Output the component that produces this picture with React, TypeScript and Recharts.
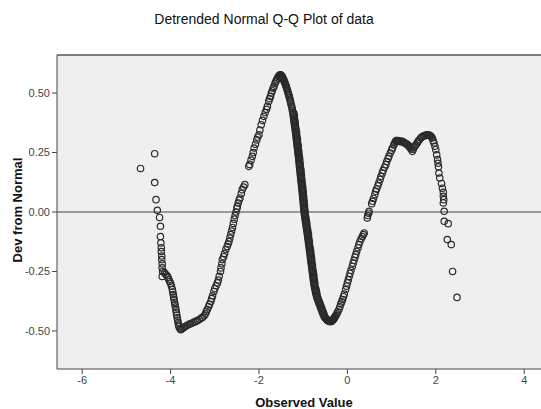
import React from "react";
import { ScatterChart, Scatter, XAxis, YAxis, CartesianGrid, ReferenceLine } from "recharts";

const TITLE = "Detrended Normal Q-Q Plot of data";
const X_LABEL = "Observed Value";
const Y_LABEL = "Dev from Normal";

const X_TICKS = [-6, -4, -2, 0, 2, 4];
const Y_TICKS = [-0.5, -0.25, 0, 0.25, 0.5];
const X_DOMAIN: [number, number] = [-6.57, 4.38];
const Y_DOMAIN: [number, number] = [-0.66, 0.66];

// [observed value, deviation from normal]
const leftTail: [number, number][] = [
  [-4.68, 0.183], [-4.36, 0.245], [-4.36, 0.124], [-4.33, 0.052], [-4.3, 0.007],
  [-4.25, -0.023], [-4.23, -0.06], [-4.23, -0.103], [-4.22, -0.13], [-4.21, -0.15],
  [-4.21, -0.166], [-4.2, -0.185], [-4.2, -0.2], [-4.19, -0.218], [-4.19, -0.235],
  [-4.18, -0.25], [-4.19, -0.271],
];

const firstTrough: [number, number][] = [
  [-4.14, -0.255], [-4.11, -0.262], [-4.08, -0.268], [-4.06, -0.275], [-4.04, -0.284],
  [-4.02, -0.292], [-4.0, -0.3], [-3.98, -0.312], [-3.96, -0.326], [-3.95, -0.336],
  [-3.94, -0.347], [-3.93, -0.358], [-3.92, -0.368], [-3.91, -0.38], [-3.9, -0.39],
  [-3.89, -0.4], [-3.88, -0.41], [-3.87, -0.422], [-3.86, -0.433], [-3.85, -0.445],
  [-3.84, -0.455], [-3.83, -0.465], [-3.82, -0.475], [-3.81, -0.482], [-3.79, -0.49],
  [-3.77, -0.495], [-3.75, -0.492], [-3.72, -0.488], [-3.69, -0.484], [-3.66, -0.48],
  [-3.62, -0.476], [-3.58, -0.472], [-3.55, -0.47], [-3.51, -0.467], [-3.47, -0.463],
  [-3.43, -0.46], [-3.39, -0.456], [-3.35, -0.452], [-3.31, -0.447], [-3.28, -0.443],
];

const firstRise: [number, number][] = [
  [-3.24, -0.436], [-3.21, -0.428], [-3.19, -0.418], [-3.17, -0.41], [-3.14, -0.398],
  [-3.12, -0.388], [-3.09, -0.376], [-3.07, -0.364], [-3.05, -0.352], [-3.02, -0.334],
  [-3.0, -0.322], [-2.97, -0.31], [-2.94, -0.298], [-2.92, -0.286], [-2.9, -0.27],
  [-2.87, -0.25], [-2.86, -0.235], [-2.84, -0.218], [-2.83, -0.2], [-2.8, -0.188],
  [-2.78, -0.175], [-2.75, -0.158], [-2.72, -0.145], [-2.7, -0.135], [-2.68, -0.124],
  [-2.66, -0.11], [-2.64, -0.095], [-2.62, -0.08], [-2.6, -0.065], [-2.58, -0.048],
  [-2.56, -0.03], [-2.54, -0.015], [-2.52, 0.0], [-2.5, 0.015], [-2.49, 0.024],
  [-2.47, 0.038], [-2.45, 0.05], [-2.43, 0.059], [-2.4, 0.078], [-2.38, 0.094],
  [-2.35, 0.105], [-2.32, 0.115],
  [-2.23, 0.192], [-2.21, 0.2], [-2.18, 0.218], [-2.15, 0.234], [-2.13, 0.25],
  [-2.11, 0.269], [-2.08, 0.285], [-2.05, 0.303], [-2.03, 0.315], [-2.0, 0.325],
  [-1.98, 0.345], [-1.95, 0.367], [-1.92, 0.385], [-1.89, 0.402], [-1.86, 0.418],
  [-1.83, 0.432], [-1.81, 0.444], [-1.78, 0.465], [-1.76, 0.476], [-1.74, 0.486],
  [-1.72, 0.5], [-1.7, 0.51], [-1.68, 0.52], [-1.66, 0.528], [-1.64, 0.54],
  [-1.62, 0.548], [-1.6, 0.556], [-1.58, 0.563], [-1.56, 0.57], [-1.54, 0.574],
  [-1.52, 0.577],
];

const mainDrop: [number, number][] = [
  [-1.51, 0.576], [-1.49, 0.572], [-1.47, 0.566], [-1.45, 0.558], [-1.43, 0.55],
  [-1.41, 0.541], [-1.39, 0.53], [-1.37, 0.519], [-1.35, 0.507], [-1.33, 0.494],
  [-1.31, 0.481], [-1.29, 0.466], [-1.27, 0.45], [-1.25, 0.436],
  [-1.235, 0.42], [-1.228, 0.41], [-1.221, 0.4], [-1.214, 0.39], [-1.207, 0.38],
  [-1.2, 0.37], [-1.192, 0.36], [-1.185, 0.35], [-1.177, 0.34], [-1.17, 0.33],
  [-1.163, 0.32], [-1.157, 0.31], [-1.15, 0.3], [-1.144, 0.29], [-1.138, 0.28],
  [-1.131, 0.27], [-1.125, 0.26], [-1.118, 0.25], [-1.112, 0.24], [-1.105, 0.23],
  [-1.1, 0.22], [-1.094, 0.21], [-1.089, 0.2], [-1.083, 0.19], [-1.077, 0.18],
  [-1.072, 0.17], [-1.066, 0.16], [-1.06, 0.15], [-1.055, 0.14], [-1.049, 0.13],
  [-1.043, 0.12], [-1.037, 0.11], [-1.031, 0.1], [-1.026, 0.09], [-1.02, 0.08],
  [-1.015, 0.07], [-1.01, 0.06], [-1.005, 0.05], [-1.0, 0.04], [-0.995, 0.03],
  [-0.99, 0.02], [-0.985, 0.01], [-0.98, 0.0], [-0.972, -0.01], [-0.964, -0.02],
  [-0.956, -0.03], [-0.948, -0.04], [-0.94, -0.05], [-0.932, -0.06], [-0.924, -0.07],
  [-0.916, -0.08], [-0.908, -0.09], [-0.9, -0.1], [-0.893, -0.11], [-0.886, -0.12],
  [-0.879, -0.13], [-0.872, -0.14], [-0.865, -0.15], [-0.858, -0.16], [-0.851, -0.17],
  [-0.844, -0.18], [-0.837, -0.19], [-0.83, -0.2], [-0.823, -0.21], [-0.816, -0.22],
  [-0.809, -0.23], [-0.802, -0.24], [-0.795, -0.25], [-0.788, -0.26], [-0.781, -0.27],
  [-0.774, -0.28], [-0.767, -0.29], [-0.76, -0.3], [-0.75, -0.31], [-0.74, -0.32],
  [-0.729, -0.33], [-0.717, -0.34], [-0.704, -0.35], [-0.69, -0.36], [-0.672, -0.37],
  [-0.65, -0.38], [-0.63, -0.39], [-0.61, -0.4], [-0.59, -0.41], [-0.57, -0.42],
  [-0.55, -0.43], [-0.525, -0.44], [-0.5, -0.445], [-0.475, -0.45], [-0.45, -0.455],
  [-0.425, -0.458], [-0.4, -0.46], [-0.38, -0.46], [-0.36, -0.459], [-0.34, -0.456],
  [-0.32, -0.452], [-0.3, -0.447], [-0.28, -0.44], [-0.26, -0.435], [-0.24, -0.428],
  [-0.22, -0.42],
];

// the same dense stretch read a second time, along its right-hand edge
const mainDropEdge: [number, number][] = [
  [-1.53, 0.575], [-1.5, 0.575], [-1.48, 0.57], [-1.46, 0.563], [-1.44, 0.555],
  [-1.42, 0.546], [-1.4, 0.536], [-1.38, 0.525], [-1.36, 0.513], [-1.34, 0.5],
  [-1.32, 0.488], [-1.3, 0.474], [-1.28, 0.458], [-1.26, 0.443], [-1.245, 0.428],
  [-1.21, 0.415], [-1.2, 0.405], [-1.2, 0.395], [-1.19, 0.385], [-1.18, 0.375],
  [-1.18, 0.365], [-1.17, 0.355], [-1.16, 0.345], [-1.15, 0.335], [-1.15, 0.325],
  [-1.14, 0.315], [-1.13, 0.305], [-1.13, 0.295], [-1.12, 0.285], [-1.11, 0.275],
  [-1.11, 0.265], [-1.1, 0.255], [-1.1, 0.245], [-1.09, 0.235], [-1.08, 0.225],
  [-1.08, 0.215], [-1.07, 0.205], [-1.07, 0.195], [-1.06, 0.185], [-1.05, 0.175],
  [-1.05, 0.165], [-1.04, 0.155], [-1.04, 0.145], [-1.03, 0.135], [-1.03, 0.125],
  [-1.02, 0.115], [-1.01, 0.105], [-1.01, 0.095], [-1.0, 0.085], [-1.0, 0.075],
  [-0.99, 0.065], [-0.99, 0.055], [-0.98, 0.045], [-0.98, 0.035], [-0.97, 0.025],
  [-0.97, 0.015], [-0.96, 0.005], [-0.96, -0.005], [-0.95, -0.015], [-0.94, -0.025],
  [-0.93, -0.035], [-0.92, -0.045], [-0.92, -0.055], [-0.91, -0.065], [-0.9, -0.075],
  [-0.89, -0.085], [-0.88, -0.095], [-0.88, -0.105], [-0.87, -0.115], [-0.86, -0.125],
  [-0.86, -0.135], [-0.85, -0.145], [-0.84, -0.155], [-0.83, -0.165], [-0.83, -0.175],
  [-0.82, -0.185], [-0.81, -0.195], [-0.81, -0.205], [-0.8, -0.215], [-0.79, -0.225],
  [-0.79, -0.235], [-0.78, -0.245], [-0.77, -0.255], [-0.76, -0.265], [-0.76, -0.275],
  [-0.75, -0.285], [-0.74, -0.295], [-0.74, -0.305], [-0.73, -0.315], [-0.71, -0.325],
  [-0.7, -0.335], [-0.69, -0.345], [-0.68, -0.355], [-0.66, -0.365], [-0.64, -0.375],
  [-0.62, -0.385], [-0.6, -0.395], [-0.58, -0.405], [-0.56, -0.415], [-0.54, -0.425],
  [-0.52, -0.435], [-0.49, -0.448], [-0.46, -0.453], [-0.44, -0.457], [-0.41, -0.459],
  [-0.39, -0.46], [-0.37, -0.46], [-0.35, -0.458], [-0.33, -0.454], [-0.31, -0.45],
  [-0.29, -0.444],
];

const secondRise: [number, number][] = [
  [-0.19, -0.41], [-0.17, -0.398], [-0.15, -0.387], [-0.13, -0.378], [-0.11, -0.368],
  [-0.09, -0.356], [-0.07, -0.345], [-0.04, -0.326], [-0.02, -0.312], [0.0, -0.298],
  [0.02, -0.285], [0.04, -0.271], [0.06, -0.258], [0.08, -0.245], [0.11, -0.229],
  [0.13, -0.215], [0.15, -0.203], [0.17, -0.19], [0.19, -0.179], [0.21, -0.165],
  [0.24, -0.15], [0.26, -0.137], [0.28, -0.125], [0.31, -0.113], [0.34, -0.103],
  [0.36, -0.095], [0.38, -0.088],
  [0.45, -0.025], [0.46, -0.015], [0.48, -0.005], [0.49, 0.003],
  [0.55, 0.035], [0.57, 0.045], [0.59, 0.057], [0.62, 0.073], [0.64, 0.087],
  [0.66, 0.097], [0.69, 0.11], [0.71, 0.122], [0.74, 0.137], [0.76, 0.15],
  [0.79, 0.164], [0.81, 0.175], [0.84, 0.188], [0.87, 0.199], [0.89, 0.212],
  [0.92, 0.225], [0.94, 0.234], [0.97, 0.248], [1.0, 0.26], [1.02, 0.269],
  [1.05, 0.282], [1.07, 0.29], [1.09, 0.297], [1.11, 0.3], [1.13, 0.3],
  [1.15, 0.299], [1.17, 0.298], [1.19, 0.296], [1.21, 0.297], [1.24, 0.297],
  [1.26, 0.294], [1.28, 0.292], [1.3, 0.29], [1.32, 0.288], [1.34, 0.286],
  [1.36, 0.283], [1.38, 0.279], [1.4, 0.275], [1.42, 0.27], [1.44, 0.265],
  [1.47, 0.255], [1.49, 0.264], [1.51, 0.272], [1.53, 0.278], [1.55, 0.283],
  [1.58, 0.29], [1.6, 0.297], [1.63, 0.304], [1.66, 0.311], [1.68, 0.315],
  [1.71, 0.318], [1.74, 0.32], [1.76, 0.322], [1.79, 0.324], [1.81, 0.325],
  [1.84, 0.324], [1.86, 0.322], [1.88, 0.319], [1.9, 0.316], [1.92, 0.311],
  [1.94, 0.3], [1.96, 0.29], [1.98, 0.276], [2.0, 0.262], [2.02, 0.24],
  [2.04, 0.22], [2.05, 0.205], [2.06, 0.19], [2.07, 0.164], [2.09, 0.143],
];

const rightTail: [number, number][] = [
  [2.13, 0.12], [2.15, 0.1], [2.17, 0.083], [2.17, 0.066], [2.18, 0.052],
  [2.17, 0.038], [2.19, 0.003], [2.19, -0.039], [2.28, -0.049], [2.26, -0.116],
  [2.35, -0.137], [2.38, -0.25], [2.48, -0.359],
];

const points = [
  ...leftTail, ...firstTrough, ...firstRise, ...mainDrop, ...mainDropEdge, ...secondRise, ...rightTail,
].map(([x, y]) => ({ x, y }));

const FONT = "Arial, 'Liberation Sans', sans-serif";

const OpenCircle = (props: any) => {
  const { cx, cy } = props;
  if (cx == null || cy == null) return null;
  return <circle cx={cx} cy={cy} r={3.2} fill="none" stroke="#2a2a2a" strokeWidth={1.2} />;
};

export default function App() {
  return (
    <div style={{ position: "absolute", left: 0, top: 0, width: 541, height: 409, background: "#fff", fontFamily: FONT }}>
      <div style={{ position: "absolute", left: 0, top: 10, width: 528, textAlign: "center", fontSize: 14, lineHeight: "18px", color: "#111" }}>
        {TITLE}
      </div>
      <div
        style={{
          position: "absolute", left: 17, top: 210, transform: "translate(-50%, -50%) rotate(-90deg)",
          whiteSpace: "nowrap", fontSize: 13, fontWeight: "bold", color: "#111",
        }}
      >
        {Y_LABEL}
      </div>
      <div style={{ position: "absolute", left: 0, top: 395, width: 608, textAlign: "center", fontSize: 13, lineHeight: "16px", fontWeight: "bold", color: "#111" }}>
        {X_LABEL}
      </div>
      <ScatterChart width={541} height={409} margin={{ top: 55, right: 0, bottom: 0, left: 0 }}>
        <CartesianGrid fill="#efefef" horizontal={false} vertical={false} />
        <XAxis
          type="number"
          dataKey="x"
          domain={X_DOMAIN}
          ticks={X_TICKS}
          allowDataOverflow
          height={40}
          tickSize={5}
          stroke="#444"
          tick={{ fontSize: 11, fill: "#444", fontFamily: FONT }}
        />
        <YAxis
          type="number"
          dataKey="y"
          domain={Y_DOMAIN}
          ticks={Y_TICKS}
          allowDataOverflow
          width={57}
          tickSize={5}
          stroke="#444"
          tickFormatter={(v: number) => v.toFixed(2)}
          tick={{ fontSize: 11, fill: "#444", fontFamily: FONT }}
        />
        <ReferenceLine y={Y_DOMAIN[1]} stroke="#555" strokeWidth={1.5} />
        <ReferenceLine y={0} stroke="#444" strokeWidth={1.2} />
        <Scatter data={points} shape={OpenCircle} isAnimationActive={false} />
      </ScatterChart>
    </div>
  );
}
